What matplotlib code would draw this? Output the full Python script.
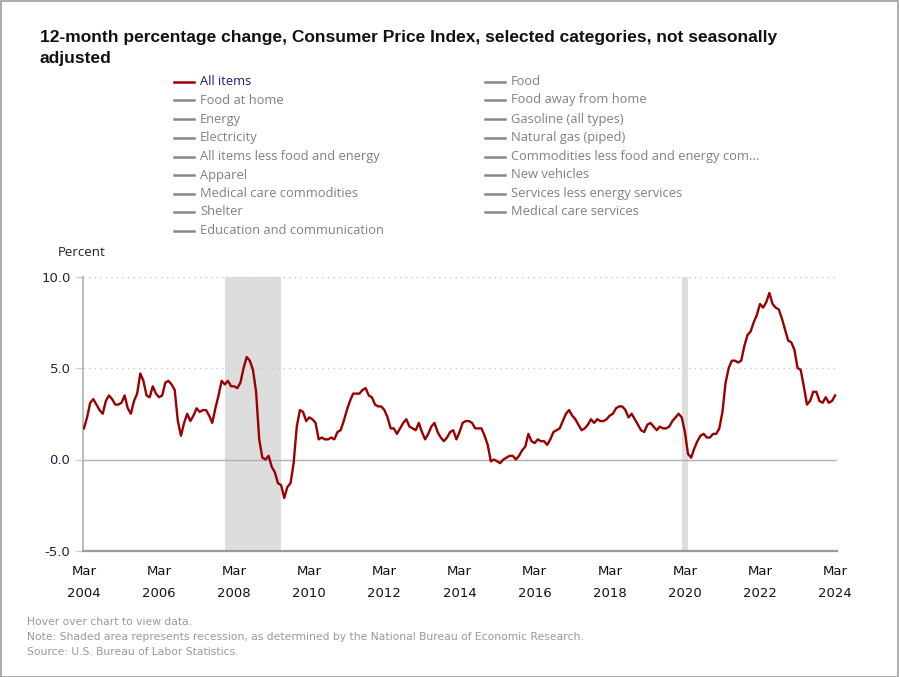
import matplotlib
matplotlib.use("Agg")
import matplotlib.pyplot as plt
from matplotlib.patches import Rectangle
import numpy as np

# ---- data ----
start_year, start_month = 2004, 3
cpi_all_items = [
    1.7, 2.3, 3.1, 3.3, 3.0, 2.7, 2.5, 3.2, 3.5, 3.3,              # 2004 Mar-Dec
    3.0, 3.0, 3.1, 3.5, 2.8, 2.5, 3.2, 3.6, 4.7, 4.3, 3.5, 3.4,    # 2005
    4.0, 3.6, 3.4, 3.5, 4.2, 4.3, 4.1, 3.8, 2.1, 1.3, 2.0, 2.5,    # 2006
    2.1, 2.4, 2.8, 2.6, 2.7, 2.7, 2.4, 2.0, 2.8, 3.5, 4.3, 4.1,    # 2007
    4.3, 4.0, 4.0, 3.9, 4.2, 5.0, 5.6, 5.4, 4.9, 3.7, 1.1, 0.1,    # 2008
    0.0, 0.2, -0.4, -0.7, -1.3, -1.4, -2.1, -1.5, -1.3, -0.2, 1.8, 2.7,  # 2009
    2.6, 2.1, 2.3, 2.2, 2.0, 1.1, 1.2, 1.1, 1.1, 1.2, 1.1, 1.5,    # 2010
    1.6, 2.1, 2.7, 3.2, 3.6, 3.6, 3.6, 3.8, 3.9, 3.5, 3.4, 3.0,    # 2011
    2.9, 2.9, 2.7, 2.3, 1.7, 1.7, 1.4, 1.7, 2.0, 2.2, 1.8, 1.7,    # 2012
    1.6, 2.0, 1.5, 1.1, 1.4, 1.8, 2.0, 1.5, 1.2, 1.0, 1.2, 1.5,    # 2013
    1.6, 1.1, 1.5, 2.0, 2.1, 2.1, 2.0, 1.7, 1.7, 1.7, 1.3, 0.8,    # 2014
    -0.1, 0.0, -0.1, -0.2, 0.0, 0.1, 0.2, 0.2, 0.0, 0.2, 0.5, 0.7, # 2015
    1.4, 1.0, 0.9, 1.1, 1.0, 1.0, 0.8, 1.1, 1.5, 1.6, 1.7, 2.1,    # 2016
    2.5, 2.7, 2.4, 2.2, 1.9, 1.6, 1.7, 1.9, 2.2, 2.0, 2.2, 2.1,    # 2017
    2.1, 2.2, 2.4, 2.5, 2.8, 2.9, 2.9, 2.7, 2.3, 2.5, 2.2, 1.9,    # 2018
    1.6, 1.5, 1.9, 2.0, 1.8, 1.6, 1.8, 1.7, 1.7, 1.8, 2.1, 2.3,    # 2019
    2.5, 2.3, 1.5, 0.3, 0.1, 0.6, 1.0, 1.3, 1.4, 1.2, 1.2, 1.4,    # 2020
    1.4, 1.7, 2.6, 4.2, 5.0, 5.4, 5.4, 5.3, 5.4, 6.2, 6.8, 7.0,    # 2021
    7.5, 7.9, 8.5, 8.3, 8.6, 9.1, 8.5, 8.3, 8.2, 7.7, 7.1, 6.5,    # 2022
    6.4, 6.0, 5.0, 4.9, 4.0, 3.0, 3.2, 3.7, 3.7, 3.2, 3.1, 3.4,    # 2023
    3.1, 3.2, 3.5,                                                 # 2024
]
recessions = [(2007, 12, 2009, 6), (2020, 2, 2020, 4)]
tick_years = [2004, 2006, 2008, 2010, 2012, 2014, 2016, 2018, 2020, 2022, 2024]
y_ticks = [-5.0, 0.0, 5.0, 10.0]
legend_left = ["All items", "Food at home", "Energy", "Electricity",
               "All items less food and energy", "Apparel",
               "Medical care commodities", "Shelter", "Education and communication"]
legend_right = ["Food", "Food away from home", "Gasoline (all types)",
                "Natural gas (piped)", "Commodities less food and energy com...",
                "New vehicles", "Services less energy services", "Medical care services"]
title_lines = ["12-month percentage change, Consumer Price Index, selected categories, not seasonally",
               "adjusted"]
notes = ["Hover over chart to view data.",
         "Note: Shaded area represents recession, as determined by the National Bureau of Economic Research.",
         "Source: U.S. Bureau of Labor Statistics."]

def mindex(y, m):
    return (y - start_year) * 12 + (m - start_month)

W, H = 899, 677
fig = plt.figure(figsize=(W / 100, H / 100), dpi=100)
fig.patch.set_facecolor("white")

def fx(px):
    return px / W

def fy(py):
    return 1 - py / H

# border
fig.patches.append(Rectangle((0.5 / W, 0.5 / H), 1 - 1.5 / W, 1 - 1.5 / H,
                             transform=fig.transFigure, fill=False,
                             edgecolor="#a0a0a0", linewidth=1.2))

# axes area
left, right, top, bottom = 83, 837, 276.5, 551
ax = fig.add_axes([fx(left), fy(bottom), fx(right - left), (bottom - top) / H])

x = np.arange(len(cpi_all_items))
for (y0, m0, y1, m1) in recessions:
    ax.axvspan(mindex(y0, m0), mindex(y1, m1), color="#dddddd", lw=0, zorder=0)

ax.plot(x, cpi_all_items, color="#990000", lw=1.7, zorder=3, solid_joinstyle="round")

ax.set_ylim(-5, 10)
ax.set_xlim(-0.3, len(cpi_all_items) - 1 + 0.6)
for yv in [5.0, 10.0]:
    ax.axhline(yv, color="#c8c8c8", lw=1, ls=(0, (1, 3)), zorder=1)
ax.axhline(0, color="#b0b0b0", lw=1, zorder=1)

ax.set_yticks(y_ticks)
ax.set_yticklabels([f"{v:.1f}" for v in y_ticks], fontsize=9.5, color="#222244",
                   fontfamily="DejaVu Sans")
ax.tick_params(axis="y", length=6, color="#c0d0e8", width=1, pad=3)

xt = [mindex(y, 3) for y in tick_years]
ax.set_xticks(xt)
ax.set_xticklabels([f"Mar\n\n{y}" for y in tick_years], fontsize=9.5,
                   fontfamily="DejaVu Sans", color="#111111", linespacing=0.8)
ax.tick_params(axis="x", length=0, pad=10)

for s in ["top", "right"]:
    ax.spines[s].set_visible(False)
ax.spines["left"].set_color("#b0b0b0")
ax.spines["left"].set_linewidth(1.2)
ax.spines["bottom"].set_color("#999999")
ax.spines["bottom"].set_linewidth(1.6)

# title
for i, line in enumerate(title_lines):
    fig.text(fx(40), fy(42 + 21.5 * i), line, fontsize=12.5, fontweight="bold",
             color="#111111", fontfamily="Liberation Sans", va="baseline", ha="left")

# legend
row_y = [81.5, 100, 119, 137.5, 156.5, 175, 193.5, 212, 231]
for i, name in enumerate(legend_left):
    yy = fy(row_y[i])
    col = "#990000" if i == 0 else "#888888"
    fig.add_artist(plt.Line2D([fx(174), fx(194)], [yy, yy], color=col, lw=1.8,
                              transform=fig.transFigure))
    fig.text(fx(200), yy, name, fontsize=9.3, fontfamily="Open Sans",
             color="#1a1a80" if i == 0 else "#808080", va="center", ha="left")
for i, name in enumerate(legend_right):
    yy = fy(row_y[i])
    fig.add_artist(plt.Line2D([fx(485), fx(505)], [yy, yy], color="#888888", lw=1.8,
                              transform=fig.transFigure))
    fig.text(fx(511), yy, name, fontsize=9.3, fontfamily="Open Sans",
             color="#808080", va="center", ha="left")

fig.text(fx(58), fy(253), "Percent", fontsize=9.5, fontfamily="Open Sans",
         color="#222222", va="center", ha="left")

for i, n in enumerate(notes):
    fig.text(fx(27), fy(622 + 15 * i), n, fontsize=7.75, fontfamily="DejaVu Sans",
             color="#999999", va="center", ha="left")

fig.savefig("out.png", dpi=100)
